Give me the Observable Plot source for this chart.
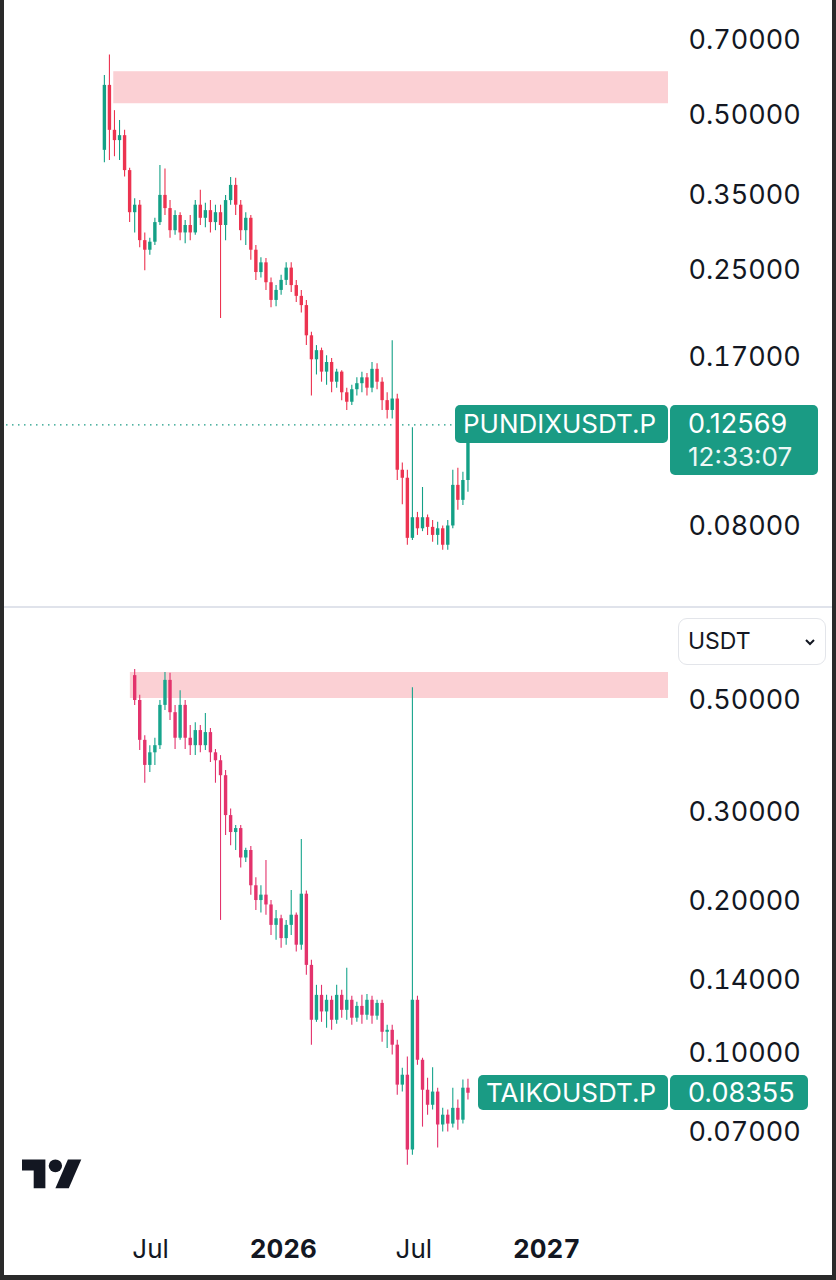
<!DOCTYPE html>
<html><head><meta charset="utf-8">
<script src="https://cdn.jsdelivr.net/npm/d3@7"></script>
<script src="https://cdn.jsdelivr.net/npm/@observablehq/plot@0.6"></script>
<style>
html,body{margin:0;padding:0;background:#fff;}
#root{position:relative;width:836px;height:1280px;overflow:hidden;font-family:Inter,"Noto Sans",sans-serif;color:#131722;}
.abs{position:absolute;}
.box{position:absolute;background:#1a9b84;color:#fff;border-radius:5px;box-sizing:border-box;white-space:nowrap;}
</style></head><body><div id="root"></div>
<script>
// ---------- data (weekly candles) ----------
const pundixOpen  = [0.428,0.572,0.468,0.447,0.457,0.391,0.324,0.335,0.286,0.274,0.284,0.310,0.350,0.330,0.299,0.320,0.296,0.306,0.296,0.335,0.316,0.327,0.310,0.324,0.306,0.342,0.366,0.335,0.299,0.316,0.274,0.248,0.259,0.237,0.219,0.229,0.2395,0.253,0.234,0.223,0.214,0.187,0.168,0.175,0.159,0.166,0.152,0.159,0.145,0.139,0.147,0.151,0.155,0.148,0.161,0.152,0.140,0.134,0.141,0.1026,0.099,0.0757,0.083,0.079,0.083,0.0795,0.0767,0.079,0.0734,0.080,0.0959,0.0897,0.098];
const pundixHigh  = [0.598,0.655,0.511,0.489,0.468,0.395,0.345,0.342,0.296,0.289,0.316,0.400,0.394,0.342,0.327,0.324,0.313,0.320,0.342,0.358,0.338,0.342,0.335,0.335,0.350,0.379,0.378,0.342,0.324,0.320,0.280,0.265,0.264,0.242,0.234,0.245,0.259,0.259,0.2395,0.229,0.219,0.190,0.179,0.177,0.171,0.169,0.161,0.160,0.148,0.150,0.155,0.159,0.158,0.166,0.165,0.155,0.145,0.183,0.144,0.106,0.1026,0.124,0.085,0.095,0.084,0.082,0.0813,0.080,0.082,0.1026,0.1035,0.1017,0.1262];
const pundixLow   = [0.405,0.409,0.416,0.409,0.380,0.310,0.296,0.277,0.250,0.268,0.280,0.306,0.320,0.289,0.293,0.286,0.282,0.286,0.293,0.306,0.303,0.296,0.299,0.202,0.286,0.335,0.320,0.286,0.280,0.262,0.2395,0.242,0.229,0.212,0.213,0.224,0.234,0.227,0.217,0.207,0.179,0.143,0.157,0.152,0.150,0.145,0.148,0.140,0.134,0.137,0.143,0.145,0.143,0.145,0.147,0.134,0.129,0.129,0.098,0.088,0.0734,0.075,0.0767,0.078,0.0767,0.0744,0.0734,0.0718,0.0718,0.079,0.0858,0.0877,0.093];
const pundixClose = [0.572,0.468,0.447,0.457,0.391,0.324,0.335,0.286,0.274,0.284,0.310,0.350,0.330,0.299,0.320,0.296,0.306,0.296,0.335,0.316,0.327,0.310,0.324,0.306,0.342,0.366,0.335,0.299,0.316,0.274,0.248,0.259,0.237,0.219,0.229,0.2395,0.253,0.234,0.223,0.214,0.187,0.168,0.175,0.159,0.166,0.152,0.159,0.145,0.139,0.147,0.151,0.155,0.148,0.161,0.152,0.140,0.134,0.141,0.1026,0.099,0.0757,0.083,0.079,0.083,0.0795,0.0767,0.079,0.0734,0.080,0.0959,0.0897,0.098,0.12569];

const taikoOpen  = [0.560,0.500,0.417,0.372,0.394,0.407,0.489,0.548,0.473,0.421,0.489,0.421,0.407,0.436,0.407,0.432,0.394,0.380,0.355,0.296,0.274,0.279,0.244,0.2525,0.215,0.201,0.206,0.197,0.1795,0.185,0.169,0.1795,0.188,0.164,0.2069,0.1496,0.1165,0.1305,0.121,0.1276,0.1165,0.1305,0.1219,0.1276,0.1176,0.1241,0.1192,0.1276,0.1187,0.1258,0.1103,0.1113,0.104,0.0867,0.0907,0.0645,0.1276,0.0971,0.0847,0.0791,0.084,0.0723,0.0756,0.0726,0.078,0.0739,0.0855];
const taikoHigh  = [0.576,0.512,0.426,0.407,0.421,0.500,0.568,0.566,0.489,0.523,0.500,0.446,0.452,0.446,0.471,0.440,0.400,0.389,0.3635,0.305,0.283,0.283,0.255,0.257,0.223,0.215,0.2413,0.201,0.192,0.188,0.1836,0.2105,0.190,0.2655,0.210,0.1531,0.1366,0.1366,0.1305,0.130,0.1366,0.1335,0.1476,0.130,0.1264,0.1305,0.131,0.130,0.1276,0.1276,0.1139,0.1139,0.1064,0.0936,0.0985,0.530,0.130,0.098,0.0895,0.0938,0.0855,0.078,0.0774,0.0855,0.081,0.0887,0.0891];
const taikoLow   = [0.489,0.398,0.343,0.360,0.372,0.400,0.478,0.4565,0.400,0.417,0.400,0.389,0.389,0.394,0.398,0.377,0.343,0.1836,0.2704,0.258,0.2525,0.233,0.239,0.206,0.192,0.190,0.188,0.1715,0.1677,0.1617,0.164,0.1715,0.159,0.1602,0.143,0.104,0.1154,0.1154,0.1124,0.1113,0.1144,0.1176,0.1165,0.1139,0.1154,0.1144,0.1165,0.1144,0.1165,0.1054,0.1025,0.0994,0.0828,0.084,0.0602,0.063,0.0949,0.0716,0.0756,0.0774,0.0651,0.070,0.070,0.0713,0.0706,0.0726,0.081];
const taikoClose = [0.500,0.417,0.372,0.394,0.407,0.489,0.548,0.473,0.421,0.489,0.421,0.407,0.436,0.407,0.432,0.394,0.380,0.355,0.296,0.274,0.279,0.244,0.2525,0.215,0.201,0.206,0.197,0.1795,0.185,0.169,0.1795,0.188,0.164,0.2069,0.1496,0.1165,0.1305,0.121,0.1276,0.1165,0.1305,0.1219,0.1276,0.1176,0.1241,0.1192,0.1276,0.1187,0.1258,0.1103,0.1113,0.104,0.0867,0.0907,0.0645,0.1276,0.0971,0.0847,0.0791,0.084,0.0723,0.0756,0.0726,0.078,0.0739,0.0855,0.08355];

const pundixTicks = [0.70, 0.50, 0.35, 0.25, 0.17, 0.08];
const taikoTicks  = [0.50, 0.30, 0.20, 0.14, 0.10, 0.07];
const pundixZone = {start: "2025-05-11", low: 0.527, high: 0.608};
const taikoZone  = {start: "2025-06-03", low: 0.5046, high: 0.568};
const monthTicks = ["2025-07-01", "2026-07-01"];
const yearTicks  = ["2026-01-01", "2027-01-01"];
const pundixSymbol = "PUNDIXUSDT.P", pundixTimer = "12:33:07";
const taikoSymbol = "TAIKOUSDT.P";

// ---------- build ----------
const xDomain = [new Date("2024-12-05"), new Date("2027-06-19")];
const TEAL = "#1a9b84", PINK = "#fbd0d4", INK = "#131722";
const root = document.getElementById("root");

function rowsFrom(start, end, o, h, l, c) {
  const weeks = d3.utcMonday.range(new Date(start), new Date(end));
  const n = Math.min(weeks.length, o.length);
  return d3.range(n).map(i => ({date: weeks[i], o: o[i], h: h[i], l: l[i], c: c[i]}));
}
const topRows = rowsFrom("2025-04-28", "2026-09-15", pundixOpen, pundixHigh, pundixLow, pundixClose);
const botRows = rowsFrom("2025-06-09", "2026-09-15", taikoOpen, taikoHigh, taikoLow, taikoClose);

function candles(rows, up, down, zone, ticks, yDomain, height, marginBottom, extra) {
  const col = d => d.c >= d.o ? up : down;
  return Plot.plot({
    width: 836, height, marginLeft: 0, marginRight: 168, marginTop: 0, marginBottom,
    style: {fontFamily: "Inter, 'Noto Sans', sans-serif", background: "transparent", color: INK, overflow: "visible"},
    x: {type: "utc", domain: xDomain, axis: null, label: null},
    y: {type: "log", domain: yDomain, axis: null, label: null},
    color: {type: "identity"},
    marks: [
      Plot.rect([zone], {x1: d => new Date(d.start), x2: () => xDomain[1], y1: "low", y2: "high", fill: PINK}),
      ...(extra || []),
      Plot.ruleX(rows, {x: "date", y1: "l", y2: "h", stroke: col, strokeWidth: 1.1}),
      Plot.ruleX(rows, {x: "date", y1: "o", y2: "c", stroke: col, strokeWidth: 3.4}),
      Plot.axisY(ticks, {anchor: "right", tickSize: 0, tickPadding: 20, fontSize: 27, label: null,
        tickFormat: d => d.toFixed(5), fill: INK})
    ]
  });
}

const lastTop = pundixClose[pundixClose.length - 1];
const topPlot = candles(topRows, "#13a086", "#ec3350", pundixZone, pundixTicks, [0.05584, 0.8356], 606, 0,
  [Plot.ruleY([lastTop], {stroke: TEAL, strokeWidth: 1.3, strokeDasharray: "1.5,4.5"})]);
const topWrap = document.createElement("div");
topWrap.className = "abs"; topWrap.style.left = "0px"; topWrap.style.top = "0px";
topWrap.appendChild(topPlot); root.appendChild(topWrap);

const botPlot = candles(botRows, "#17a58d", "#e3336c", taikoZone, taikoTicks, [0.04512, 0.7603], 672, 52, [
  Plot.axisX(monthTicks.map(d => new Date(d)), {anchor: "bottom", tickSize: 0, tickPadding: 11, fontSize: 26, label: null, tickFormat: () => "Jul", fill: INK}),
  Plot.axisX(yearTicks.map(d => new Date(d)), {anchor: "bottom", tickSize: 0, tickPadding: 11, fontSize: 26, label: null, fontWeight: "bold", tickFormat: d => String(d.getUTCFullYear()), fill: INK})
]);
const botWrap = document.createElement("div");
botWrap.className = "abs"; botWrap.style.left = "0px"; botWrap.style.top = "608px";
botWrap.appendChild(botPlot); root.appendChild(botWrap);

// ---------- price labels positioned from the y scales ----------
function box(left, top, width, height, html, css) {
  const b = document.createElement("div");
  b.className = "box";
  Object.assign(b.style, {left: left + "px", top: top + "px", width: width + "px", height: height + "px"}, css || {});
  b.innerHTML = html; root.appendChild(b); return b;
}
const ty = topPlot.scale("y").apply(lastTop);
box(455, ty - 19, 213, 38, pundixSymbol, {fontSize: "26px", lineHeight: "38px", paddingLeft: "8px"});
box(670, ty - 19, 148, 70,
  `<div style="height:38px;line-height:38px">${lastTop.toFixed(5)}</div><div style="height:30px;line-height:28px;font-size:26px;opacity:.92">${pundixTimer}</div>`,
  {fontSize: "27px", paddingLeft: "18px"});

const lastBot = taikoClose[taikoClose.length - 1];
const by = 608 + botPlot.scale("y").apply(lastBot);
box(478, by - 17.5, 190, 35, taikoSymbol, {fontSize: "26px", lineHeight: "35px", paddingLeft: "8px"});
box(670, by - 17.5, 138, 35, lastBot.toFixed(5), {fontSize: "27px", lineHeight: "35px", paddingLeft: "18px"});

// ---------- chrome: separator, currency selector, logo, frame ----------
const sep = document.createElement("div");
sep.className = "abs";
Object.assign(sep.style, {left: "0px", top: "606px", width: "836px", height: "2px", background: "#e0e3eb"});
root.appendChild(sep);

const sel = document.createElement("div");
sel.className = "abs";
Object.assign(sel.style, {left: "678px", top: "618px", width: "148px", height: "47px", border: "1px solid #e3e5ea",
  borderRadius: "9px", boxSizing: "border-box", fontSize: "23px", lineHeight: "45px", paddingLeft: "9px", color: INK});
sel.innerHTML = `USDT<svg style="position:absolute;right:10px;top:19px" width="10" height="8" viewBox="0 0 10 8"><path d="M1 2 L5 6 L9 2" fill="none" stroke="${INK}" stroke-width="2"/></svg>`;
root.appendChild(sel);

const logo = document.createElementNS("http://www.w3.org/2000/svg", "svg");
logo.setAttribute("width", "70"); logo.setAttribute("height", "40");
logo.setAttribute("style", "position:absolute;left:22px;top:1153px");
logo.innerHTML = `<g transform="scale(1.67,1.6)" fill="${INK}"><path d="M14 22H7V11H0V4h14v18z"/><path d="M28 22h-8l7.5-18h8L28 22z"/><circle cx="20" cy="8" r="4"/></g>`;
root.appendChild(logo);

const frame = document.createElement("div");
frame.className = "abs";
Object.assign(frame.style, {left: "0px", top: "0px", width: "836px", height: "1280px", boxSizing: "border-box",
  borderLeft: "4px solid #2a2a2a", borderRight: "4px solid #2a2a2a", borderBottom: "5px solid #2a2a2a", pointerEvents: "none"});
root.appendChild(frame);
</script></body></html>
